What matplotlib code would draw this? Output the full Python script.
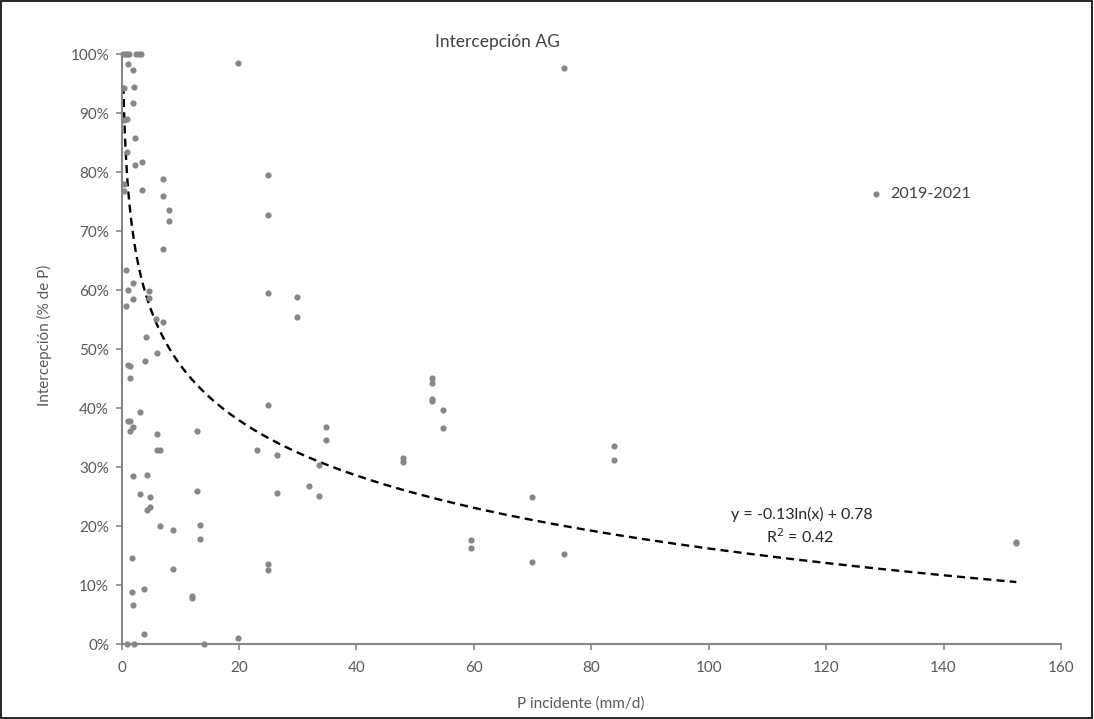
import numpy as np
import matplotlib
matplotlib.use('Agg')
import matplotlib.pyplot as plt
from matplotlib.ticker import PercentFormatter, MultipleLocator
from matplotlib.patches import Rectangle

plt.rcParams['font.family'] = ['Lato', 'DejaVu Sans']

# P incidente (mm/d) and intercepción (fraction of P)
p_incidente = [
    0.3, 0.5, 0.9, 1.3, 2.4, 2.9, 3.3,
    1.0, 2.0, 0.4, 2.1, 1.9, 0.4, 0.9, 2.3, 0.9, 2.3, 3.5, 0.4, 0.4, 3.5,
    7.1, 7.1, 8.1, 8.1, 7.1, 19.9, 24.9, 24.9, 24.9, 0.7, 1.0, 1.9, 1.9,
    0.7, 4.6, 4.6, 7.1, 5.8, 4.1,
    6.0, 1.0, 1.4, 4.0, 1.4, 3.1, 1.0, 1.4, 2.0, 1.4, 6.0, 6.0, 6.5, 12.9,
    23.1, 24.9, 1.9, 4.3, 3.1, 4.8, 4.3, 4.8, 6.5, 8.8, 12.9, 13.3, 13.3,
    8.8, 1.75, 1.75, 1.9, 3.8, 12.0, 12.0, 3.8, 0.95, 2.1, 14.0, 19.9,
    24.9, 24.9,
    29.8, 29.8, 26.4, 34.8, 34.8, 33.6, 31.9, 26.4, 33.6, 47.9, 47.9,
    52.9, 52.9, 52.9, 52.9, 54.8, 54.8, 83.9, 83.9, 59.5, 59.5, 69.9, 69.9,
    75.4, 75.4, 152.4, 152.4,
]
intercepcion = [
    1.000, 1.000, 1.000, 1.000, 1.000, 1.000, 1.000,
    0.983, 0.973, 0.943, 0.945, 0.918, 0.888, 0.890, 0.858, 0.835, 0.812,
    0.818, 0.780, 0.769, 0.770,
    0.789, 0.759, 0.736, 0.717, 0.670, 0.986, 0.795, 0.727, 0.596, 0.635,
    0.601, 0.613, 0.586, 0.574, 0.598, 0.587, 0.547, 0.551, 0.520,
    0.493, 0.474, 0.472, 0.480, 0.452, 0.393, 0.379, 0.379, 0.369, 0.361,
    0.357, 0.329, 0.330, 0.362, 0.330, 0.406, 0.285, 0.287, 0.255, 0.249,
    0.227, 0.232, 0.200, 0.194, 0.260, 0.202, 0.179, 0.128, 0.146, 0.088,
    0.067, 0.094, 0.081, 0.078, 0.018, 0.000, 0.000, 0.000, 0.011,
    0.136, 0.126,
    0.588, 0.554, 0.321, 0.369, 0.346, 0.303, 0.268, 0.257, 0.251, 0.316,
    0.309, 0.452, 0.442, 0.415, 0.412, 0.397, 0.366, 0.336, 0.313, 0.177,
    0.163, 0.249, 0.139, 0.153, 0.977, 0.174, 0.171,
]
serie = '2019-2021'

# logarithmic trendline as shown on the chart
trend_slope = -0.135
trend_intercept = 0.784
trend_label = 'y = -0.13ln(x) + 0.78'
r2_label = 'R$^2$ = 0.42'

gray_txt = '#595959'

fig = plt.figure(figsize=(10.94, 7.19), dpi=100)
ax = fig.add_axes([0.1112, 0.104, 0.8586, 0.8205])

ax.scatter(p_incidente, intercepcion, s=20, color='#878787',
           linewidths=0, label=serie, zorder=3, clip_on=False)

xt = np.geomspace(min(p_incidente), max(p_incidente), 300)
yt = trend_slope * np.log(xt) + trend_intercept
ax.plot(xt, yt, color='black', linewidth=1.7, dashes=(3.4, 2.2), zorder=2)

ax.set_xlim(0, 160)
ax.set_ylim(0, 1.0)
ax.xaxis.set_major_locator(MultipleLocator(20))
ax.yaxis.set_major_locator(MultipleLocator(0.1))
ax.yaxis.set_major_formatter(PercentFormatter(1.0, decimals=0))

for s in ['top', 'right']:
    ax.spines[s].set_visible(False)
for s in ['left', 'bottom']:
    ax.spines[s].set_color('#868686')
    ax.spines[s].set_linewidth(1.5)
ax.tick_params(axis='both', direction='out', length=4, width=1.2,
               color='#868686', labelcolor=gray_txt, labelsize=11)
ax.tick_params(axis='x', pad=8)
ax.tick_params(axis='y', pad=5)

fig.text(0.455, 0.942, 'Intercepción AG', ha='center', va='center',
         fontsize=12.5, color='#404040')
fig.text(0.531, 0.022, 'P incidente (mm/d)', ha='center', va='center',
         fontsize=11, color=gray_txt)
fig.text(0.041, 0.533, 'Intercepción (% de P)', ha='center', va='center',
         rotation=90, fontsize=11, color=gray_txt)

fig.text(0.733, 0.284, trend_label, ha='center', va='center',
         fontsize=11.5, color='#262626')
fig.text(0.731, 0.254, r2_label, ha='center', va='center',
         fontsize=11.5, color='#262626')

ax.legend(loc='center left', bbox_to_anchor=(0.7934, 0.730),
          bbox_transform=fig.transFigure, frameon=False, fontsize=11.5,
          handlelength=1.0, handletextpad=0.4, borderpad=0,
          borderaxespad=0, labelcolor='#404040')

fig.patches.append(Rectangle((0.001, 0.002), 0.997, 0.996, fill=False,
                             edgecolor='black', linewidth=1.2,
                             transform=fig.transFigure, figure=fig))

fig.savefig('out.png', dpi=100)
